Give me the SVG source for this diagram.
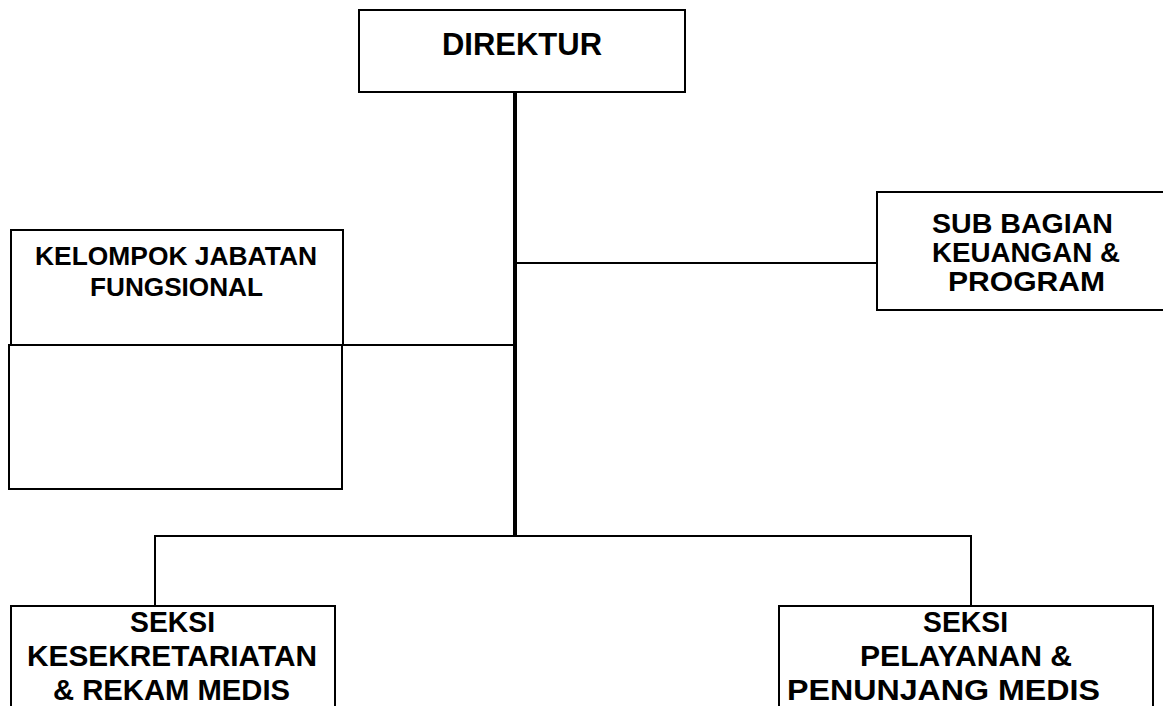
<svg xmlns="http://www.w3.org/2000/svg" width="1163" height="706" viewBox="0 0 1163 706">
<style>
.box{fill:#fff;stroke:#000;stroke-width:2}
.t{font-family:"Liberation Sans",Arial,sans-serif;font-weight:bold;fill:#000;text-anchor:middle}
.ln{stroke:#000;stroke-width:2;fill:none}
</style>
<rect width="1163" height="706" fill="#fff"/>
<g id="connectors">
<line class="ln" x1="515" y1="263" x2="877" y2="263"/>
<line class="ln" x1="342" y1="345" x2="515" y2="345"/>
<polyline class="ln" points="155,606 155,536 971,536 971,606"/>
<line x1="515" y1="92" x2="515" y2="537" stroke="#000" stroke-width="4"/>
</g>
<g id="direktur">
<rect class="box" x="359" y="10" width="326" height="82"/>
<text class="t" x="522" y="55" font-size="31" textLength="160" lengthAdjust="spacingAndGlyphs">DIREKTUR</text>
</g>
<g id="kelompok">
<rect class="box" x="11" y="230" width="332" height="115"/>
<text class="t" x="176" y="265" font-size="26" textLength="282" lengthAdjust="spacingAndGlyphs">KELOMPOK JABATAN</text>
<text class="t" x="176.5" y="296" font-size="26" textLength="173" lengthAdjust="spacingAndGlyphs">FUNGSIONAL</text>
</g>
<g id="kelompok-lower">
<rect class="box" x="9" y="345" width="333" height="144"/>
</g>
<g id="subbagian">
<rect class="box" x="877" y="192" width="292" height="118"/>
<text class="t" x="1022.5" y="233" font-size="28" textLength="181" lengthAdjust="spacingAndGlyphs">SUB BAGIAN</text>
<text class="t" x="1026" y="262" font-size="28" textLength="188" lengthAdjust="spacingAndGlyphs">KEUANGAN &amp;</text>
<text class="t" x="1026.5" y="291" font-size="28" textLength="157" lengthAdjust="spacingAndGlyphs">PROGRAM</text>
</g>
<g id="seksi-kesekretariatan">
<rect class="box" x="11" y="606" width="324" height="110"/>
<text class="t" x="172.5" y="632" font-size="29" textLength="85" lengthAdjust="spacingAndGlyphs">SEKSI</text>
<text class="t" x="172" y="666" font-size="29" textLength="290" lengthAdjust="spacingAndGlyphs">KESEKRETARIATAN</text>
<text class="t" x="171.5" y="700" font-size="29" textLength="237" lengthAdjust="spacingAndGlyphs">&amp; REKAM MEDIS</text>
</g>
<g id="seksi-pelayanan">
<rect class="box" x="779" y="606" width="374" height="110"/>
<text class="t" x="965.5" y="632" font-size="29" textLength="85" lengthAdjust="spacingAndGlyphs">SEKSI</text>
<text class="t" x="966" y="666" font-size="29" textLength="212" lengthAdjust="spacingAndGlyphs">PELAYANAN &amp;</text>
<text class="t" x="943.5" y="700" font-size="29" textLength="313" lengthAdjust="spacingAndGlyphs">PENUNJANG MEDIS</text>
</g>
</svg>
